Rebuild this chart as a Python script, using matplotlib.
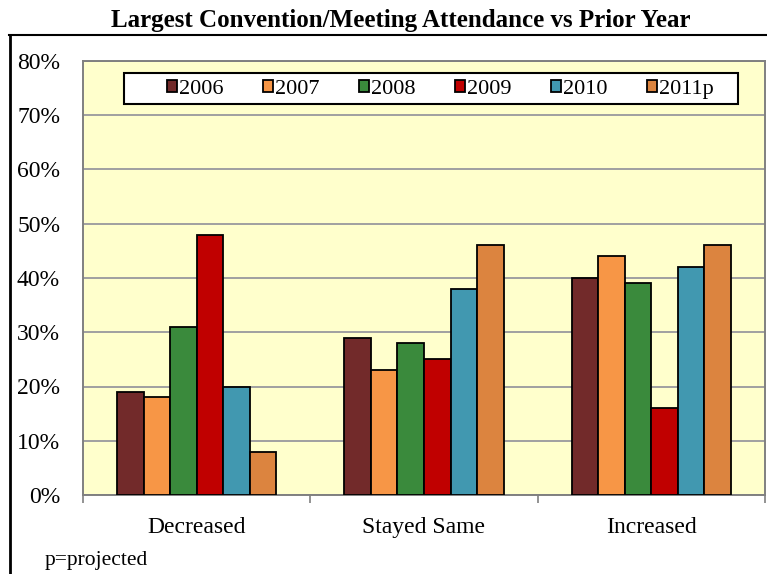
import matplotlib.pyplot as plt
import numpy as np
from matplotlib.lines import Line2D
from matplotlib.patches import Rectangle

plt.rcParams['font.family'] = ['Liberation Serif', 'DejaVu Serif']

categories = ['Decreased', 'Stayed Same', 'Increased']
years = ['2006', '2007', '2008', '2009', '2010', '2011p']
values = {
    '2006':  [19, 29, 40],
    '2007':  [18, 23, 44],
    '2008':  [31, 28, 39],
    '2009':  [48, 25, 16],
    '2010':  [20, 38, 42],
    '2011p': [8, 46, 46],
}
colors = ['#722a2a', '#f79646', '#3a8a3c', '#c00000', '#4198b0', '#dc843f']
yticks = [0, 10, 20, 30, 40, 50, 60, 70, 80]

fig = plt.figure(figsize=(7.67, 5.74), dpi=100)
W, H = 767, 574
ax = fig.add_axes([83 / W, 1 - 495 / H, (765 - 83) / W, (495 - 61) / H])
ax.set_facecolor('#ffffcc')

x = np.arange(len(categories))
bw = 0.7 / len(years)
for i, (yr, c) in enumerate(zip(years, colors)):
    off = (i - (len(years) - 1) / 2) * bw
    ax.bar(x + off, values[yr], bw, color=c, edgecolor='black', linewidth=1.3,
           label=yr, zorder=3)

ax.set_xlim(-0.5, len(categories) - 0.5)
ax.set_ylim(0, 80)
ax.set_yticks(yticks)
ax.set_yticklabels([f'{v}%' for v in yticks], fontsize=17)
ax.yaxis.grid(True, color='#a0a0a0', linewidth=1.4, zorder=0)
ax.set_axisbelow(True)

ax.set_xticks(np.arange(-0.5, len(categories), 1.0))
ax.set_xticklabels([])
ax.set_xticks(x, minor=True)
ax.set_xticklabels(categories, minor=True, fontsize=17)
ax.tick_params(axis='x', which='major', length=6, color='#808080', width=1.2)
ax.tick_params(axis='x', which='minor', length=0, pad=15.5)
ax.tick_params(axis='y', length=0, pad=16.5)
for s in ax.spines.values():
    s.set_color('#808080')
    s.set_linewidth(1.4)

# legend box drawn separately so its padding can be wider than the entries
ax.add_patch(Rectangle((0.0601, 0.901), 0.9003, 0.0714, transform=ax.transAxes,
                       facecolor='white', edgecolor='black', linewidth=1.5,
                       zorder=4))
leg = ax.legend(ncol=6, loc='center', bbox_to_anchor=(0.524, 0.934),
                fontsize=16, frameon=False, handlelength=0.45,
                handleheight=0.45, handletextpad=0.12, columnspacing=1.75,
                borderpad=0.1)
leg.set_zorder(5)

fig.text(401 / W, 1 - 27 / H, 'Largest Convention/Meeting Attendance vs Prior Year',
         ha='center', va='baseline', fontsize=18, fontweight='bold')
fig.text(45 / W, 1 - 561 / H, 'p=projected', fontsize=15.5, va='center')

# outer chart frame (runs off the right and bottom edges)
fig.add_artist(Line2D([9 / W, 1.0], [1 - 35 / H, 1 - 35 / H], color='black',
                      linewidth=1.5, transform=fig.transFigure))
fig.add_artist(Line2D([10 / W, 10 / W], [1 - 35 / H, 0], color='black',
                      linewidth=2, transform=fig.transFigure))

fig.savefig('out.png', dpi=100)
